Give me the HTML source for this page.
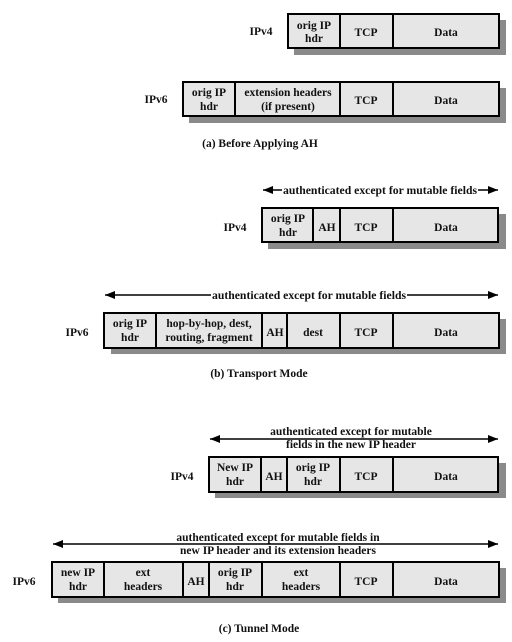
<!DOCTYPE html>
<html><head><meta charset="utf-8"><style>
html,body{margin:0;padding:0;background:#fff;}
svg{display:block;}
text{font-family:"Liberation Serif",serif;font-weight:bold;font-size:11.5px;fill:#111;}
</style></head><body>
<svg width="512" height="642" viewBox="0 0 512 642" xmlns="http://www.w3.org/2000/svg">
<defs>
<marker id="ah" viewBox="0 0 10 8" refX="10" refY="4" markerWidth="10" markerHeight="8" markerUnits="userSpaceOnUse" orient="auto-start-reverse"><path d="M0,0 L10,4 L0,8 z" fill="#000"/></marker>
</defs>
<g text-anchor="middle">
<!-- (a) IPv4 -->
<rect x="294" y="20" width="212" height="35" fill="#8a8a8a"/>
<rect x="288" y="14" width="211" height="34" fill="#e6e6e6" stroke="#000" stroke-width="2"/>
<path d="M340 14V48M393 14V48" stroke="#000" stroke-width="2"/>
<text x="261" y="35">IPv4</text>
<text x="314" y="29">orig IP</text><text x="314" y="42">hdr</text>
<text x="366" y="36">TCP</text><text x="446" y="36">Data</text>
<!-- (a) IPv6 -->
<rect x="189" y="88" width="317" height="35" fill="#8a8a8a"/>
<rect x="183" y="82" width="316" height="34" fill="#e6e6e6" stroke="#000" stroke-width="2"/>
<path d="M235 82V116M340 82V116M393 82V116" stroke="#000" stroke-width="2"/>
<text x="156" y="103">IPv6</text>
<text x="209" y="96">orig IP</text><text x="209" y="110">hdr</text>
<text x="288" y="96">extension headers</text><text x="288" y="110">(if present)</text>
<text x="366" y="104">TCP</text><text x="446" y="104">Data</text>
<text x="260" y="147">(a) Before Applying AH</text>

<!-- (b) IPv4 -->
<line x1="263" y1="190" x2="498" y2="190" stroke="#000" stroke-width="1.5" marker-start="url(#ah)" marker-end="url(#ah)"/>
<rect x="282" y="183" width="196" height="14" fill="#fff"/>
<text x="380" y="194" textLength="194" lengthAdjust="spacingAndGlyphs">authenticated except for mutable fields</text>
<rect x="268" y="214" width="238" height="35" fill="#8a8a8a"/>
<rect x="262" y="208" width="236" height="34" fill="#e6e6e6" stroke="#000" stroke-width="2"/>
<path d="M313 208V242M340 208V242M393 208V242" stroke="#000" stroke-width="2"/>
<text x="235" y="231">IPv4</text>
<text x="288" y="222">orig IP</text><text x="288" y="236">hdr</text>
<text x="327" y="231">AH</text><text x="366" y="231">TCP</text><text x="446" y="231">Data</text>
<!-- (b) IPv6 -->
<line x1="105" y1="295" x2="498" y2="295" stroke="#000" stroke-width="1.5" marker-start="url(#ah)" marker-end="url(#ah)"/>
<rect x="211" y="288" width="196" height="14" fill="#fff"/>
<text x="309" y="299" textLength="194" lengthAdjust="spacingAndGlyphs">authenticated except for mutable fields</text>
<rect x="111" y="319" width="395" height="35" fill="#8a8a8a"/>
<rect x="104" y="313" width="395" height="35" fill="#e6e6e6" stroke="#000" stroke-width="2"/>
<path d="M156 313V348M262 313V348M287 313V348M340 313V348M393 313V348" stroke="#000" stroke-width="2"/>
<text x="77" y="336">IPv6</text>
<text x="130" y="327">orig IP</text><text x="130" y="341">hdr</text>
<text x="209" y="327">hop-by-hop, dest,</text><text x="209" y="341">routing, fragment</text>
<text x="275" y="336">AH</text><text x="313" y="336">dest</text>
<text x="366" y="336">TCP</text><text x="446" y="336">Data</text>
<text x="259" y="377">(b) Transport Mode</text>

<!-- (c) IPv4 -->
<line x1="210" y1="439" x2="498" y2="439" stroke="#000" stroke-width="1.5" marker-start="url(#ah)" marker-end="url(#ah)"/>
<text x="351" y="435">authenticated except for mutable</text>
<text x="351" y="448">fields in the new IP header</text>
<rect x="215" y="463" width="291" height="35" fill="#8a8a8a"/>
<rect x="209" y="457" width="289" height="35" fill="#e6e6e6" stroke="#000" stroke-width="2"/>
<path d="M261 457V492M287 457V492M340 457V492M393 457V492" stroke="#000" stroke-width="2"/>
<text x="182" y="480">IPv4</text>
<text x="235" y="471">New IP</text><text x="235" y="485">hdr</text>
<text x="274" y="480">AH</text>
<text x="313" y="471">orig IP</text><text x="313" y="485">hdr</text>
<text x="366" y="480">TCP</text><text x="446" y="480">Data</text>
<!-- (c) IPv6 -->
<line x1="53" y1="544" x2="498" y2="544" stroke="#000" stroke-width="1.5" marker-start="url(#ah)" marker-end="url(#ah)"/>
<text x="278" y="541">authenticated except for mutable fields in</text>
<text x="278" y="554">new IP header and its extension headers</text>
<rect x="58" y="568" width="448" height="35" fill="#8a8a8a"/>
<rect x="52" y="562" width="447" height="35" fill="#e6e6e6" stroke="#000" stroke-width="2"/>
<path d="M104 562V597M183 562V597M209 562V597M262 562V597M340 562V597M393 562V597" stroke="#000" stroke-width="2"/>
<text x="24" y="585">IPv6</text>
<text x="78" y="576">new IP</text><text x="78" y="590">hdr</text>
<text x="143" y="576">ext</text><text x="143" y="590">headers</text>
<text x="196" y="585">AH</text>
<text x="235" y="576">orig IP</text><text x="235" y="590">hdr</text>
<text x="301" y="576">ext</text><text x="301" y="590">headers</text>
<text x="366" y="585">TCP</text><text x="446" y="585">Data</text>
<text x="259" y="632">(c) Tunnel Mode</text>
</g>
</svg>
</body></html>
